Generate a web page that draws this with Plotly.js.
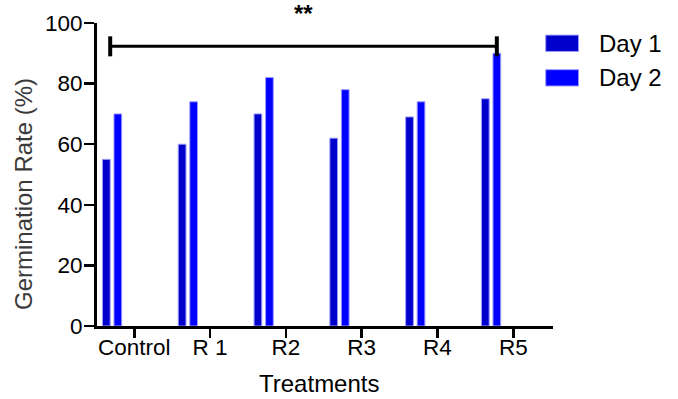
<!DOCTYPE html>
<html>
<head>
<meta charset="utf-8">
<script src="https://cdn.plot.ly/plotly-3.0.1.min.js"></script>
<style>html,body{margin:0;padding:0;background:#fff;}#chart{width:678px;height:399px;}</style>
</head>
<body>
<div id="chart"></div>
<script>
var categories = ["Control", "R 1", "R2", "R3", "R4", "R5"];
var day1 = [55, 60, 70, 62, 69, 75];
var day2 = [70, 74, 82, 78, 74, 90];
var seriesNames = ["Day 1", "Day 2"];
var yTicks = [0, 20, 40, 60, 80, 100];

var colors = ["#0000CC", "#0000FF"];
var outline = "#9c9cff";
var barW = 0.102;
var off1 = -0.42, off2 = -0.268;

var traces = [
  {type: "bar", name: seriesNames[0], x: categories, y: day1, offset: off1, width: barW,
   marker: {color: colors[0], line: {color: outline, width: 1}}, showlegend: false},
  {type: "bar", name: seriesNames[1], x: categories, y: day2, offset: off2, width: barW,
   marker: {color: colors[1], line: {color: outline, width: 1}}, showlegend: false}
];

var sigLeft = 0 + off1 + barW;
var sigRight = (categories.length - 1) + off2 + barW / 2;
var sigY = 92.3;

var font = "Liberation Sans, Arial, Helvetica, sans-serif";

var layout = {
  width: 678, height: 399,
  margin: {l: 97, r: 125, t: 23, b: 73},
  paper_bgcolor: "#fff", plot_bgcolor: "#fff",
  font: {family: font, color: "#000"},
  barmode: "overlay",
  xaxis: {
    type: "category", categoryorder: "array", categoryarray: categories,
    range: [-0.492, 5.524],
    showline: true, linewidth: 3, linecolor: "#000",
    ticks: "outside", ticklen: 9, tickwidth: 2.5, tickcolor: "#000",
    tickfont: {size: 22.5, family: font, color: "#000"},
    ticklabelstandoff: -10,
    showgrid: false, zeroline: false
  },
  yaxis: {
    range: [0, 100], tickvals: yTicks, ticktext: yTicks.map(String),
    showline: true, linewidth: 3, linecolor: "#000",
    ticks: "outside", ticklen: 10, tickwidth: 2.5, tickcolor: "#000",
    tickfont: {size: 22.5, family: font, color: "#000"},
    ticklabelstandoff: -3,
    showgrid: false, zeroline: false
  },
  shapes: [
    {type: "line", xref: "x", yref: "y", x0: sigLeft, x1: sigRight, y0: sigY, y1: sigY, line: {color: "#000", width: 3}},
    {type: "line", xref: "x", yref: "y", x0: sigLeft, x1: sigLeft, y0: 89, y1: 95.6, line: {color: "#000", width: 4}},
    {type: "line", xref: "x", yref: "y", x0: sigRight, x1: sigRight, y0: 89, y1: 95.6, line: {color: "#000", width: 4}},
    {type: "rect", xref: "paper", yref: "paper", x0: 0.984, x1: 1.056, y0: 0.906, y1: 0.960, fillcolor: colors[0], line: {color: outline, width: 1}},
    {type: "rect", xref: "paper", yref: "paper", x0: 0.984, x1: 1.056, y0: 0.792, y1: 0.846, fillcolor: colors[1], line: {color: outline, width: 1}}
  ],
  annotations: [
    {xref: "x", yref: "paper", x: (sigLeft + sigRight) / 2, y: 1.03, text: "<b>**</b>", showarrow: false,
     font: {size: 24, family: font, color: "#000"}, xanchor: "center", yanchor: "middle"},
    {xref: "paper", yref: "paper", x: 1.097, y: 0.933, text: seriesNames[0], showarrow: false,
     font: {size: 24, family: font, color: "#000"}, xanchor: "left", yanchor: "middle"},
    {xref: "paper", yref: "paper", x: 1.097, y: 0.819, text: seriesNames[1], showarrow: false,
     font: {size: 24, family: font, color: "#000"}, xanchor: "left", yanchor: "middle"},
    {xref: "paper", yref: "paper", x: (319 - 97) / 456, y: (326 - 383) / 303, text: "Treatments", showarrow: false,
     font: {size: 24, family: font, color: "#000"}, xanchor: "center", yanchor: "middle"},
    {xref: "paper", yref: "paper", x: (23 - 97) / 456, y: (326 - 194) / 303, text: "Germination Rate (%)", showarrow: false,
     textangle: -90, font: {size: 24, family: font, color: "#3a3a3a"}, xanchor: "center", yanchor: "middle"}
  ]
};

Plotly.newPlot("chart", traces, layout, {displayModeBar: false, staticPlot: true});
</script>
</body>
</html>
